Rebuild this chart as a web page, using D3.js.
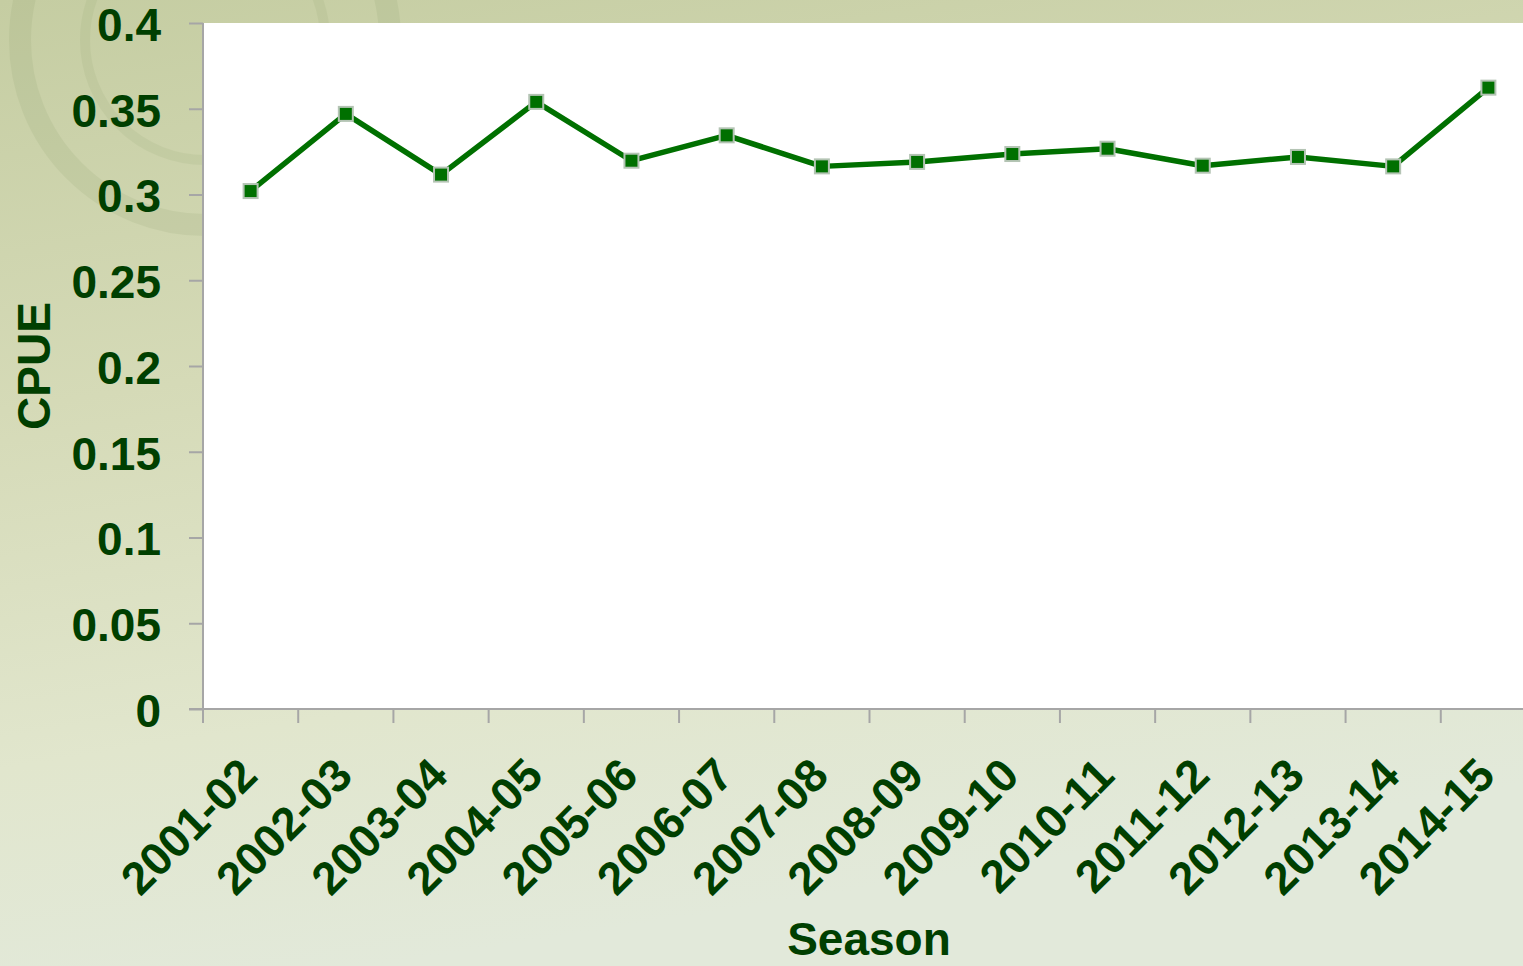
<!DOCTYPE html>
<html>
<head>
<meta charset="utf-8">
<script src="https://cdn.jsdelivr.net/npm/d3@7"></script>
<style>
  html, body { margin: 0; padding: 0; overflow: hidden; }
  svg { display: block; }
</style>
</head>
<body>
<svg id="chart" width="1523" height="966"></svg>
<script>
const seasons = ["2001-02","2002-03","2003-04","2004-05","2005-06","2006-07","2007-08",
                 "2008-09","2009-10","2010-11","2011-12","2012-13","2013-14","2014-15"];
const cpue = [0.302, 0.347, 0.3116, 0.354, 0.3197, 0.3345, 0.3164,
              0.319, 0.3236, 0.3267, 0.3168, 0.3219, 0.3164, 0.3623];
const yTicks = [0, 0.05, 0.1, 0.15, 0.2, 0.25, 0.3, 0.35, 0.4];
const yTickLabels = ["0","0.05","0.1","0.15","0.2","0.25","0.3","0.35","0.4"];

(function () {
const W = 1523, H = 966;
const pL = 203, pR = 1536, pT = 23, pB = 709;
const textColor = "#003f00";
const lineColor = "#007000";
const font = "'Liberation Sans', Arial, Helvetica, sans-serif";

const svg = d3.select("#chart");
const defs = svg.append("defs");
const bg = defs.append("linearGradient").attr("id","bg").attr("x1",0).attr("y1",0).attr("x2",0.25).attr("y2",1);
bg.append("stop").attr("offset","0%").attr("stop-color","#c5cda2");
bg.append("stop").attr("offset","40%").attr("stop-color","#d5dab7");
bg.append("stop").attr("offset","75%").attr("stop-color","#e1e6cd");
bg.append("stop").attr("offset","100%").attr("stop-color","#e2e9da");
svg.append("rect").attr("width",W).attr("height",H).attr("fill","url(#bg)");

// faint seal decoration in the top-left of the background
const seal = svg.append("g").attr("opacity",0.12).attr("fill","none");
seal.append("circle").attr("cx",205).attr("cy",40).attr("r",185).attr("stroke","#7f9460").attr("stroke-width",22);
seal.append("circle").attr("cx",205).attr("cy",40).attr("r",120).attr("stroke","#8a9e6a").attr("stroke-width",10);

const x = d3.scaleBand().domain(seasons).range([pL, pR]).padding(0);
const y = d3.scaleLinear().domain([0, 0.4]).range([pB, pT]);

svg.append("rect").attr("x",pL).attr("y",pT).attr("width",pR-pL).attr("height",pB-pT).attr("fill","#ffffff");

// Y axis
const yAxis = d3.axisLeft(y).tickValues(yTicks).tickSize(14).tickPadding(28)
  .tickFormat((d,i) => yTickLabels[i]);
const gy = svg.append("g").attr("transform",`translate(${pL},0)`).call(yAxis);
gy.select(".domain").remove();
gy.selectAll(".tick line").attr("stroke","#a6a6a6").attr("stroke-width",2);
gy.selectAll(".tick text").attr("fill",textColor).attr("font-family",font)
  .attr("font-weight","bold").attr("font-size",46).attr("dy","0.38em");
svg.append("line").attr("x1",pL).attr("x2",pL).attr("y1",pT).attr("y2",pB+14)
  .attr("stroke","#a6a6a6").attr("stroke-width",2);

// X axis (ticks between categories)
const bounds = seasons.map(s => x(s)).concat([x(seasons[seasons.length-1]) + x.bandwidth()]);
svg.append("line").attr("x1",pL-14).attr("x2",pR).attr("y1",pB).attr("y2",pB)
  .attr("stroke","#a6a6a6").attr("stroke-width",2);
svg.append("g").selectAll("line").data(bounds).join("line")
  .attr("x1",d=>d).attr("x2",d=>d).attr("y1",pB).attr("y2",pB+14)
  .attr("stroke","#a6a6a6").attr("stroke-width",2);
svg.append("g").selectAll("text").data(seasons).join("text")
  .attr("transform", d => `translate(${x(d) + x.bandwidth()/2 + 9},${pB + 69}) rotate(-45)`)
  .attr("text-anchor","end").attr("fill",textColor).attr("font-family",font)
  .attr("font-weight","bold").attr("font-size",46).text(d=>d);

// Line and markers
const line = d3.line().x((d,i)=>x(seasons[i]) + x.bandwidth()/2).y(d=>y(d));
svg.append("path").datum(cpue).attr("d",line).attr("fill","none")
  .attr("stroke",lineColor).attr("stroke-width",5.5).attr("stroke-linejoin","round");
svg.append("g").selectAll("rect").data(cpue).join("rect")
  .attr("x",(d,i)=>x(seasons[i]) + x.bandwidth()/2 - 7)
  .attr("y",d=>y(d) - 7).attr("width",14).attr("height",14)
  .attr("fill",lineColor).attr("stroke","#b4c4b4").attr("stroke-width",2);

// Axis titles
svg.append("text").attr("transform",`translate(50,366) rotate(-90)`).attr("text-anchor","middle")
  .attr("fill",textColor).attr("font-family",font).attr("font-weight","bold").attr("font-size",46).text("CPUE");
svg.append("text").attr("x",869).attr("y",955).attr("text-anchor","middle")
  .attr("fill",textColor).attr("font-family",font).attr("font-weight","bold").attr("font-size",46).text("Season");
})();
</script>
</body>
</html>
